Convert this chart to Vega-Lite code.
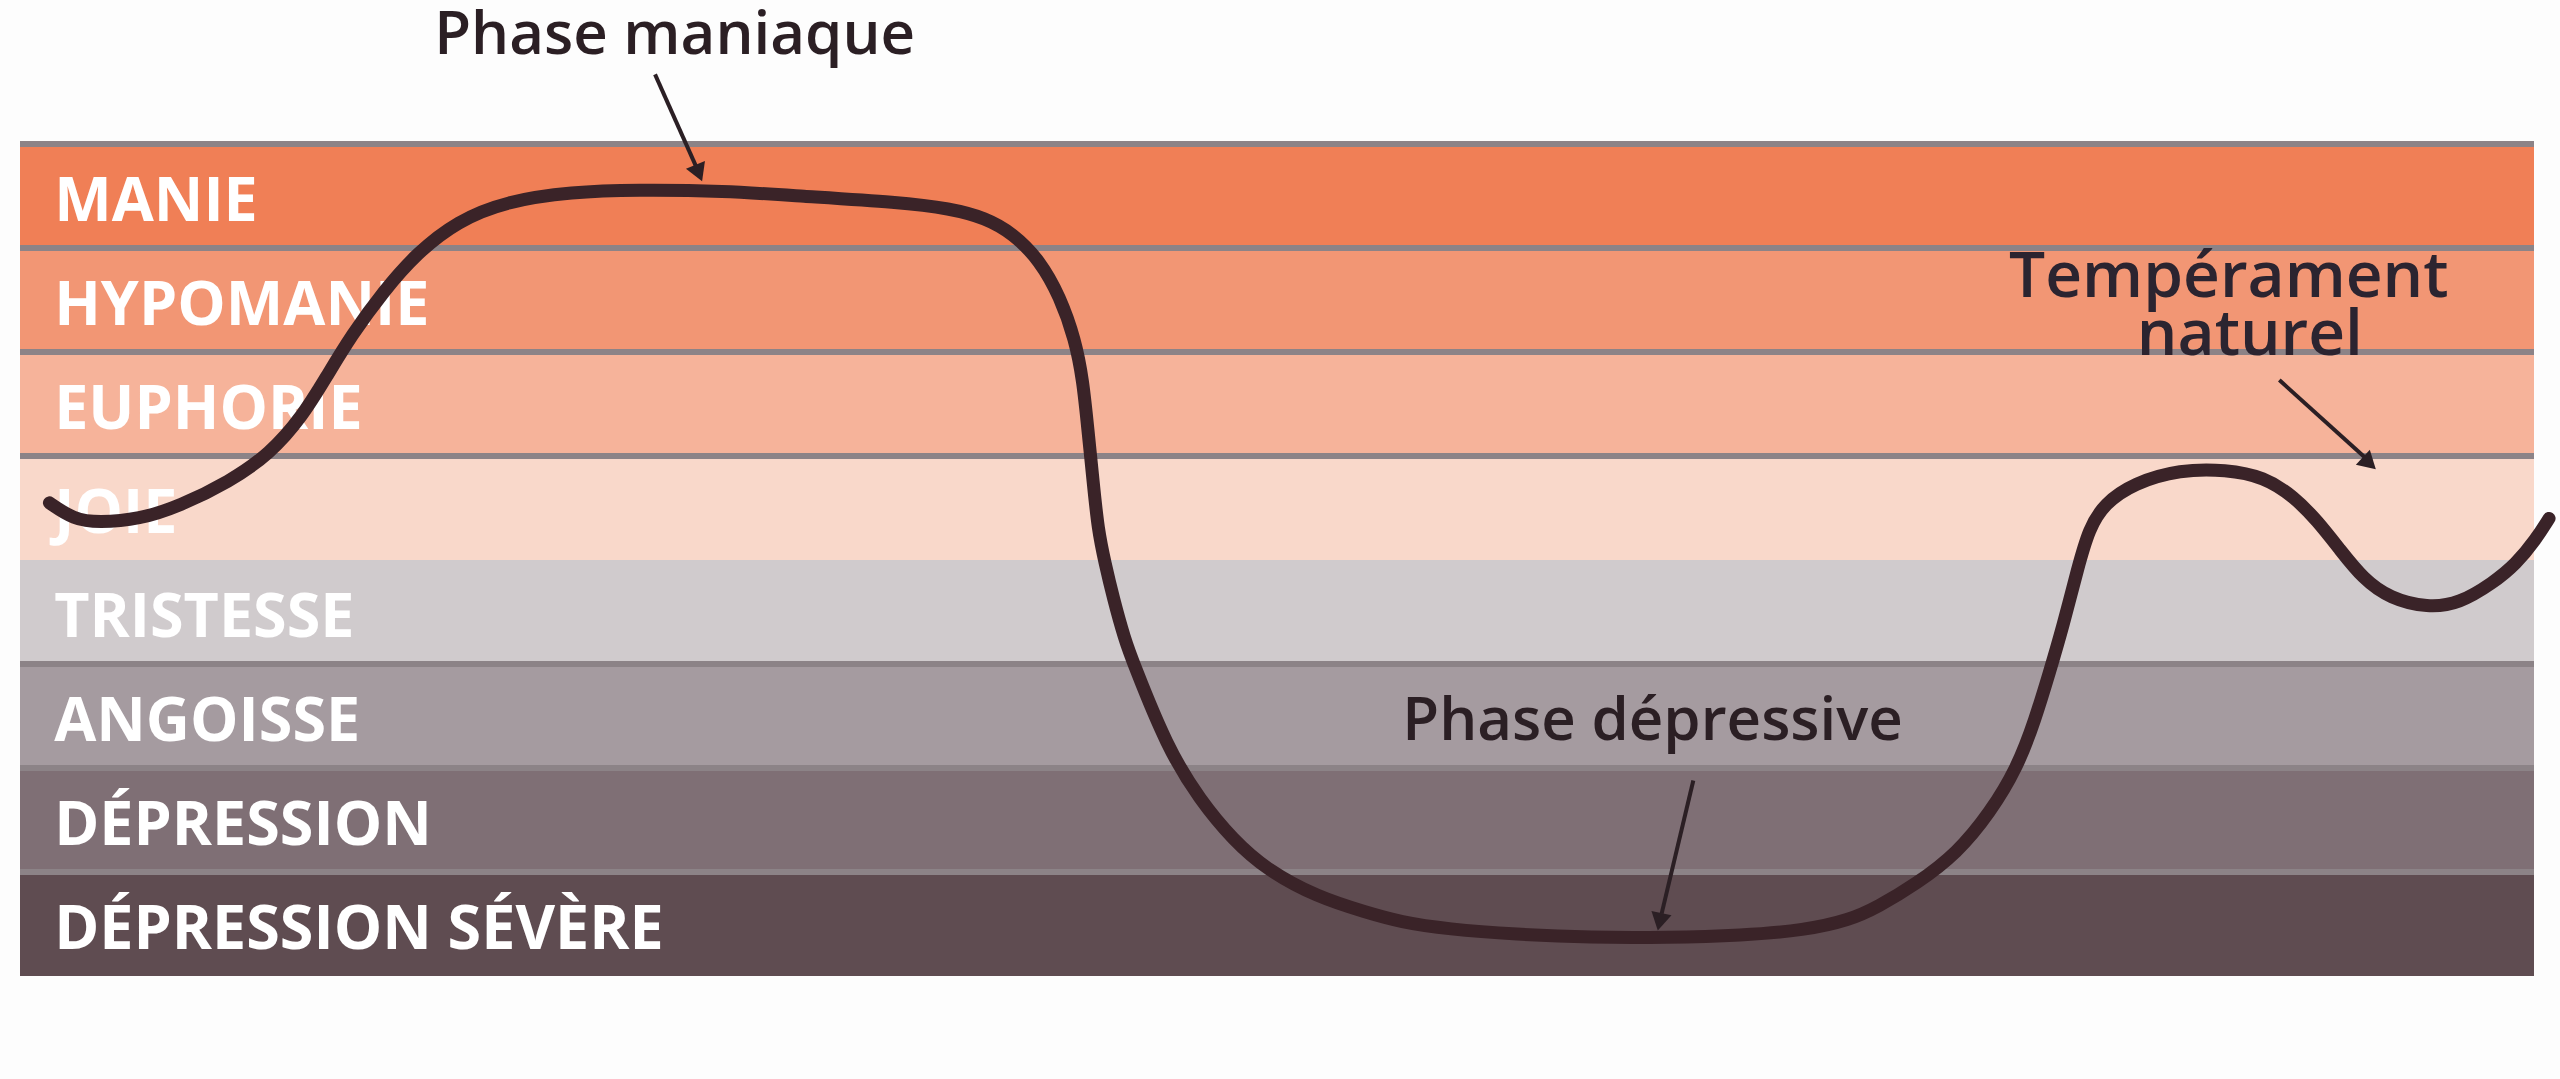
{
  "$schema": "https://vega.github.io/schema/vega-lite/v6.json",
  "width": 2514,
  "height": 832,
  "autosize": "none",
  "padding": {"left": 20, "top": 144, "right": 26, "bottom": 103},
  "background": "#fdfdfd",
  "config": {"view": {"stroke": null}},
  "datasets": {
    "bands": [
      {"level": "MANIE", "lo": 7, "hi": 8},
      {"level": "HYPOMANIE", "lo": 6, "hi": 7},
      {"level": "EUPHORIE", "lo": 5, "hi": 6},
      {"level": "JOIE", "lo": 4, "hi": 5},
      {"level": "TRISTESSE", "lo": 3, "hi": 4},
      {"level": "ANGOISSE", "lo": 2, "hi": 3},
      {"level": "DÉPRESSION", "lo": 1, "hi": 2},
      {"level": "DÉPRESSION SÉVÈRE", "lo": 0, "hi": 1}
    ],
    "bounds": [{"b": 1}, {"b": 2}, {"b": 3}, {"b": 5}, {"b": 6}, {"b": 7}, {"b": 8}],
    "curve": [
      {"t": 1.17, "v": 4.55}, {"t": 2.14, "v": 4.39}, {"t": 3.12, "v": 4.36}, {"t": 4.74, "v": 4.39},
      {"t": 6.36, "v": 4.52}, {"t": 8.31, "v": 4.75}, {"t": 9.94, "v": 5.02}, {"t": 11.23, "v": 5.38},
      {"t": 12.21, "v": 5.77}, {"t": 13.18, "v": 6.16}, {"t": 14.48, "v": 6.59}, {"t": 15.78, "v": 6.95},
      {"t": 17.4, "v": 7.26}, {"t": 19.35, "v": 7.45}, {"t": 21.95, "v": 7.54}, {"t": 24.5, "v": 7.56},
      {"t": 28.0, "v": 7.55}, {"t": 31.03, "v": 7.5}, {"t": 35.0, "v": 7.44}, {"t": 37.0, "v": 7.38},
      {"t": 38.4, "v": 7.29}, {"t": 39.5, "v": 7.14}, {"t": 40.57, "v": 6.88}, {"t": 41.37, "v": 6.53},
      {"t": 41.97, "v": 6.12}, {"t": 42.28, "v": 5.73}, {"t": 42.48, "v": 5.25}, {"t": 42.68, "v": 4.77},
      {"t": 42.88, "v": 4.29}, {"t": 43.16, "v": 3.97}, {"t": 43.48, "v": 3.64}, {"t": 43.95, "v": 3.23},
      {"t": 44.27, "v": 3.02}, {"t": 45.62, "v": 2.2}, {"t": 46.94, "v": 1.69}, {"t": 48.25, "v": 1.31},
      {"t": 49.6, "v": 1.02}, {"t": 51.59, "v": 0.76}, {"t": 53.58, "v": 0.61}, {"t": 54.89, "v": 0.52},
      {"t": 56.8, "v": 0.45}, {"t": 59.5, "v": 0.4}, {"t": 62.5, "v": 0.37}, {"t": 65.5, "v": 0.37},
      {"t": 68.5, "v": 0.39}, {"t": 71.0, "v": 0.44}, {"t": 72.79, "v": 0.54}, {"t": 73.87, "v": 0.66},
      {"t": 75.46, "v": 0.89}, {"t": 77.05, "v": 1.18}, {"t": 78.36, "v": 1.57}, {"t": 79.44, "v": 2.0},
      {"t": 80.15, "v": 2.46}, {"t": 80.75, "v": 2.94}, {"t": 81.26, "v": 3.36}, {"t": 81.86, "v": 3.93},
      {"t": 82.3, "v": 4.3}, {"t": 82.9, "v": 4.54}, {"t": 84.09, "v": 4.74}, {"t": 85.92, "v": 4.87},
      {"t": 87.75, "v": 4.87}, {"t": 89.26, "v": 4.8}, {"t": 90.45, "v": 4.61}, {"t": 91.37, "v": 4.38},
      {"t": 92.28, "v": 4.1}, {"t": 93.2, "v": 3.82}, {"t": 94.27, "v": 3.63}, {"t": 95.78, "v": 3.54},
      {"t": 97.02, "v": 3.58}, {"t": 98.37, "v": 3.78}, {"t": 99.28, "v": 3.96}, {"t": 100.08, "v": 4.2},
      {"t": 100.6, "v": 4.4}
    ],
    "arrows": [
      {"name": "maniaque", "t": 25.26, "v": 8.67, "t2": 26.9, "v2": 7.78},
      {"name": "depressive", "t": 66.56, "v": 1.88, "t2": 65.3, "v2": 0.6},
      {"name": "naturel", "t": 89.87, "v": 5.73, "t2": 93.3, "v2": 4.98}
    ],
    "heads": [
      {"name": "maniaque", "t": 27.0, "v": 7.72},
      {"name": "depressive", "t": 65.22, "v": 0.52},
      {"name": "naturel", "t": 93.45, "v": 4.93}
    ],
    "notes": [
      {"label": "Phase maniaque", "t": 26.04, "v": 8.87, "size": "m"},
      {"label": "Phase dépressive", "t": 64.94, "v": 2.27, "size": "m"},
      {"label": "Tempérament", "t": 87.86, "v": 6.53, "size": "l"},
      {"label": "naturel", "t": 88.7, "v": 5.97, "size": "l"}
    ]
  },
  "layer": [
    {
      "data": {"name": "bands"},
      "mark": {"type": "rect"},
      "encoding": {
        "x": {"datum": 0, "type": "quantitative", "scale": {"domain": [0, 100], "nice": false, "zero": false}, "axis": null},
        "x2": {"datum": 100},
        "y": {"field": "lo", "type": "quantitative", "scale": {"domain": [0, 8], "nice": false, "zero": false}, "axis": null},
        "y2": {"field": "hi"},
        "color": {
          "field": "level", "type": "nominal", "legend": null,
          "scale": {
            "domain": ["MANIE", "HYPOMANIE", "EUPHORIE", "JOIE", "TRISTESSE", "ANGOISSE", "DÉPRESSION", "DÉPRESSION SÉVÈRE"],
            "range": ["#F07F56", "#F29674", "#F6B39A", "#F9D8CA", "#D0CBCD", "#A59BA0", "#7F6F75", "#5F4C51"]
          }
        }
      }
    },
    {
      "data": {"name": "bounds"},
      "mark": {"type": "rule", "stroke": "#8c8387", "strokeWidth": 6},
      "encoding": {"y": {"field": "b", "type": "quantitative"}}
    },
    {
      "data": {"name": "bands"},
      "mark": {"type": "text", "align": "left", "baseline": "middle", "dy": -45, "font": "Open Sans", "fontWeight": "bold", "fontSize": 61, "color": "#ffffff"},
      "encoding": {
        "x": {"datum": 1.36, "type": "quantitative"},
        "y": {"field": "lo", "type": "quantitative"},
        "text": {"field": "level"}
      }
    },
    {
      "mark": {"type": "rule", "stroke": "#2a1a20", "strokeWidth": 8},
      "encoding": {"y": {"datum": 4, "type": "quantitative"}}
    },
    {
      "data": {"name": "curve"},
      "mark": {"type": "line", "interpolate": "basis", "stroke": "#3a2328", "strokeWidth": 13, "strokeCap": "round", "strokeJoin": "round", "clip": false},
      "encoding": {
        "x": {"field": "t", "type": "quantitative"},
        "y": {"field": "v", "type": "quantitative"}
      }
    },
    {
      "data": {"name": "arrows"},
      "mark": {"type": "rule", "stroke": "#2b1f24", "strokeWidth": 4, "clip": false},
      "encoding": {
        "x": {"field": "t", "type": "quantitative"},
        "y": {"field": "v", "type": "quantitative"},
        "x2": {"field": "t2"},
        "y2": {"field": "v2"}
      }
    },
    {
      "data": {"name": "heads"},
      "transform": [{"filter": "datum.name == 'maniaque'"}],
      "mark": {"type": "point", "shape": "triangle-up", "filled": true, "color": "#2b1f24", "size": 420, "angle": 158, "opacity": 1},
      "encoding": {"x": {"field": "t", "type": "quantitative"}, "y": {"field": "v", "type": "quantitative"}}
    },
    {
      "data": {"name": "heads"},
      "transform": [{"filter": "datum.name == 'depressive'"}],
      "mark": {"type": "point", "shape": "triangle-up", "filled": true, "color": "#2b1f24", "size": 420, "angle": 192, "opacity": 1},
      "encoding": {"x": {"field": "t", "type": "quantitative"}, "y": {"field": "v", "type": "quantitative"}}
    },
    {
      "data": {"name": "heads"},
      "transform": [{"filter": "datum.name == 'naturel'"}],
      "mark": {"type": "point", "shape": "triangle-up", "filled": true, "color": "#2b1f24", "size": 420, "angle": 133, "opacity": 1},
      "encoding": {"x": {"field": "t", "type": "quantitative"}, "y": {"field": "v", "type": "quantitative"}}
    },
    {
      "data": {"name": "notes"},
      "transform": [{"filter": "datum.size == 'm'"}],
      "mark": {"type": "text", "align": "center", "baseline": "alphabetic", "font": "Open Sans", "fontWeight": 600, "fontSize": 60, "color": "#2b1f24", "clip": false},
      "encoding": {
        "x": {"field": "t", "type": "quantitative"},
        "y": {"field": "v", "type": "quantitative"},
        "text": {"field": "label"}
      }
    },
    {
      "data": {"name": "notes"},
      "transform": [{"filter": "datum.size == 'l'"}],
      "mark": {"type": "text", "align": "center", "baseline": "alphabetic", "font": "Open Sans", "fontWeight": 600, "fontSize": 64, "color": "#2b2430", "clip": false},
      "encoding": {
        "x": {"field": "t", "type": "quantitative"},
        "y": {"field": "v", "type": "quantitative"},
        "text": {"field": "label"}
      }
    }
  ]
}
